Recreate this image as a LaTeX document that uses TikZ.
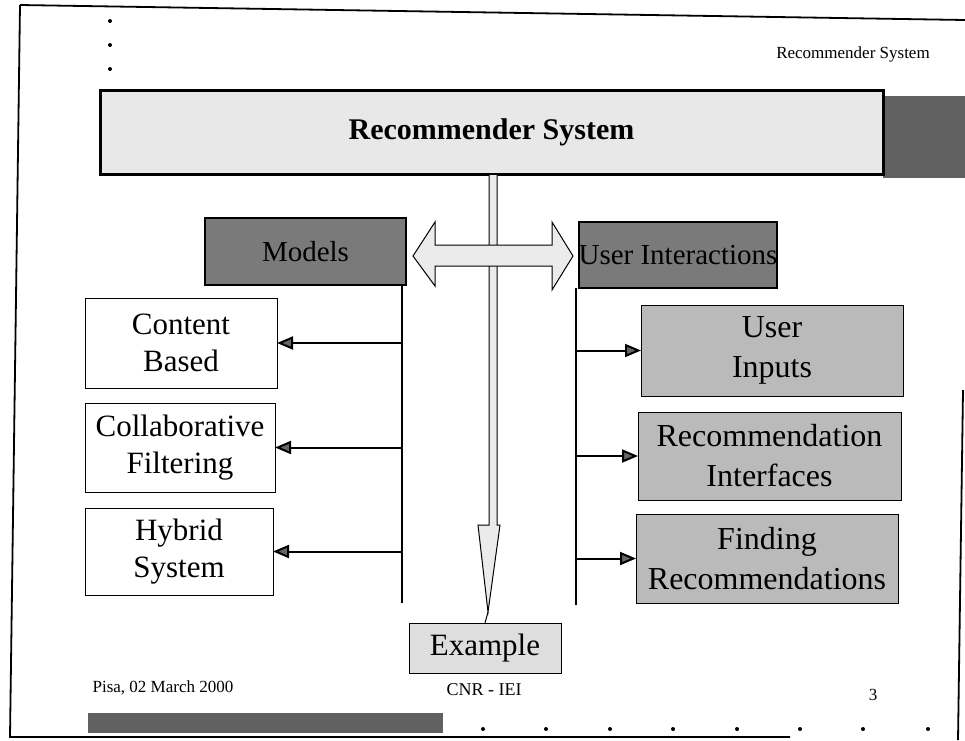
\documentclass[tikz,border=0pt]{standalone}
\usepackage{fontspec}
\setmainfont{Liberation Serif}
\usetikzlibrary{arrows.meta}
\tikzset{
  every node/.style={inner sep=0pt, outer sep=0pt},
  whitebox/.style={draw=black, line width=1pt, fill=white, align=center, font=\fontsize{31}{37}\selectfont},
  graybox/.style={draw=black, line width=1pt, fill=black!27, align=center, font=\fontsize{32}{40}\selectfont},
  headbox/.style={draw=black, line width=2pt, fill=black!52, align=center, font=\fontsize{29}{35}\selectfont},
  smalltext/.style={font=\fontsize{17}{20}\selectfont},
  branch/.style={line width=2pt, -{Triangle[length=16pt,width=13pt,fill=black!60]}},
  trunk/.style={line width=2pt},
  blockarrow/.style={draw=black, line width=1pt, fill=black!8},
  frameline/.style={line width=1.8pt},
  bulletdot/.style={fill=black, draw=none}
}
\begin{document}
\begin{tikzpicture}[x=1pt,y=-1pt]
\useasboundingbox (0,0) rectangle (965,740);
% page frame
\draw[frameline] (20,5) -- (965,20);
\draw[frameline] (20,5) -- (10,737) -- (790,737);
\draw[frameline] (963,390) -- (958,740);
% top left dots
\foreach \yy in {21,45,69} \fill[bulletdot] (110,\yy) circle (2pt);
\node[smalltext] (hdr) at (853,54) {Recommender System};
% title with shadow
\fill[black!62] (883,96) rectangle (965,178);
\node[draw=black, line width=3pt, fill=black!9, minimum width=783pt, minimum height=84pt,
      font=\fontsize{30}{36}\selectfont\bfseries] (title) at (491.5,132) {Recommender System};
% vertical block arrow to Example
\filldraw[blockarrow] (489,175) -- (489,525) -- (478,525) -- (488,612) -- (500,525) -- (497,525) -- (497,175);
% horizontal double arrow
\filldraw[blockarrow] (413,256) -- (435,222) -- (435,245) -- (552,245) -- (552,222) -- (573,256)
   -- (552,290) -- (552,266) -- (435,266) -- (435,286) -- cycle;
% header boxes
\node[headbox, minimum width=201pt, minimum height=67pt] (models) at (305.5,251.5) {Models};
\node[headbox, minimum width=196pt, minimum height=66pt] (ui) at (678,255) {User Interactions};
% left boxes
\node[whitebox, minimum width=192pt, minimum height=90pt] (cb) at (181,343) {Content\\Based};
\node[whitebox, minimum width=190pt, minimum height=89pt] (cf) at (180,447.5) {Collaborative\\Filtering};
\node[whitebox, minimum width=188pt, minimum height=87pt] (hs) at (179,551.5) {Hybrid\\System};
% right boxes
\node[graybox, minimum width=262pt, minimum height=91pt] (uin) at (772,350.5) {User\\Inputs};
\node[graybox, minimum width=263pt, minimum height=88pt] (ri) at (769.5,456) {Recommendation\\Interfaces};
\node[graybox, minimum width=262pt, minimum height=89pt] (fr) at (767,558.5) {Finding\\Recommendations};
% Example box
\node[draw=black, line width=1pt, fill=black!13, minimum width=152pt, minimum height=50pt,
      font=\fontsize{31}{37}\selectfont] (ex) at (485,648) {Example};
\coordinate (tip) at (488,612);
\draw[line width=1pt] (tip) -- (ex.north);
% trunks
\coordinate (ml) at (402,603);
\coordinate (ul) at (576,605);
\draw[trunk] (models.south -| ml) -- (ml);
\draw[trunk] (ui.south -| ul) -- (ul);
% branches
\draw[branch] (cb.east -| ml) -- (cb.east);
\draw[branch] (cf.east -| ml) -- (cf.east);
\draw[branch] (hs.east -| ml) -- (hs.east);
\draw[branch] (uin.west -| ul) -- (uin.west);
\draw[branch] (ri.west -| ul) -- (ri.west);
\draw[branch] (fr.west -| ul) -- (fr.west);
% footer
\node[smalltext] (date) at (163,688) {Pisa, 02 March 2000};
\node[smalltext, font=\fontsize{18}{20}\selectfont] (cnr) at (484,690) {CNR - IEI};
\node[smalltext] (pg) at (873,695) {3};
\fill[black!62] (88,713) rectangle (443,733);
\foreach \xx in {483,546,610,673,737,800,863,928} \fill[bulletdot] (\xx,729) circle (2pt);
\end{tikzpicture}
\end{document}
